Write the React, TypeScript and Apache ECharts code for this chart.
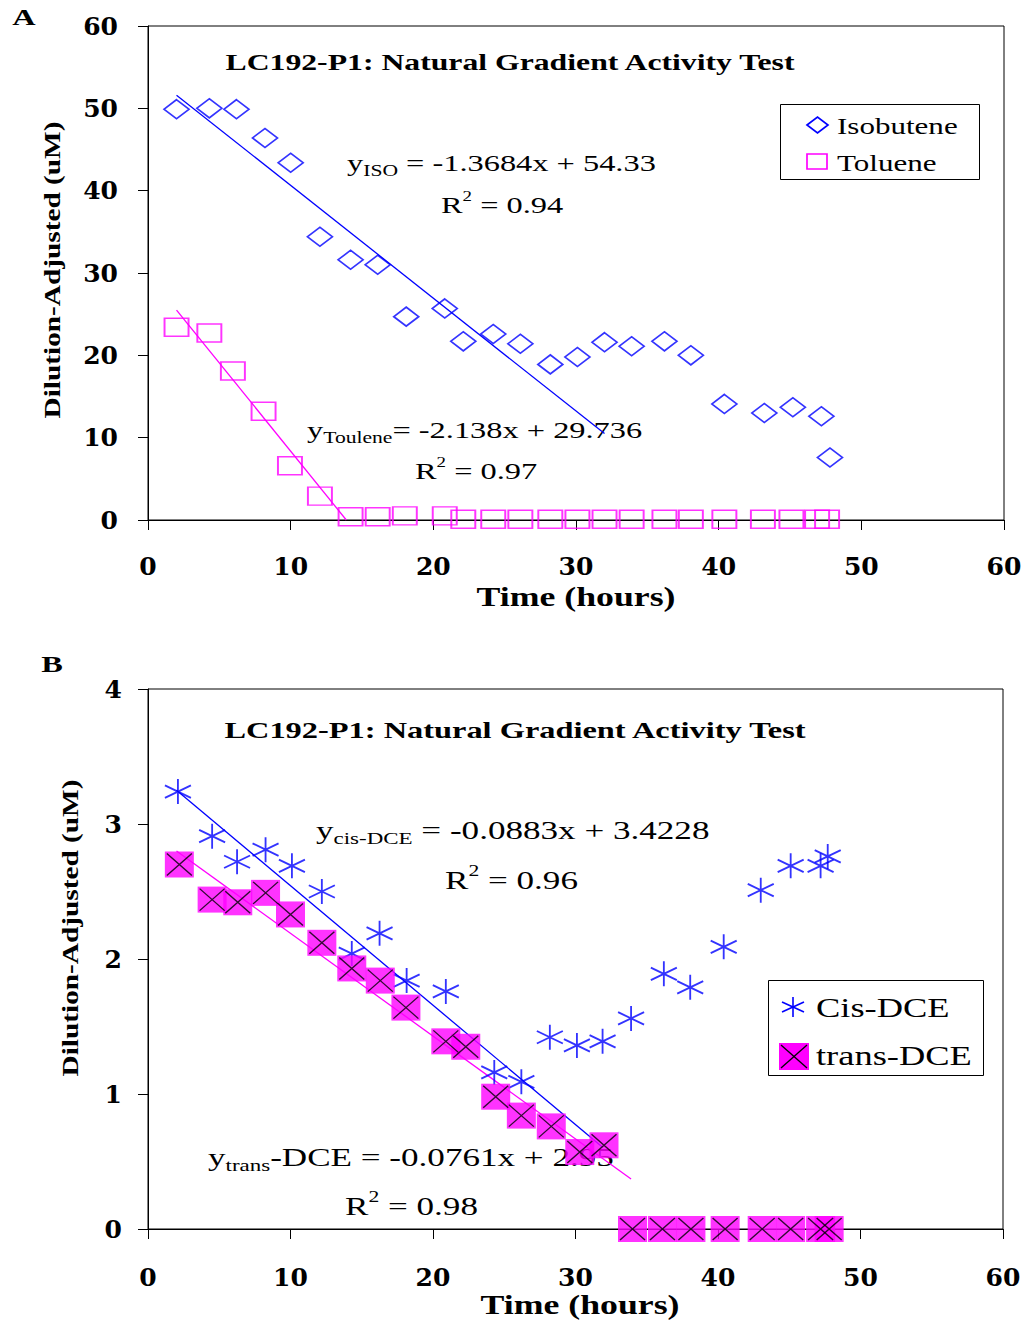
import React, { useEffect, useRef } from "react";
import * as echarts from "echarts";

// ---------- Panel A data ----------
const isoTime = [2.0, 4.3, 6.2, 8.2, 10.0, 12.05, 14.2, 16.1, 18.1, 20.8, 22.1, 24.2, 26.1, 28.2, 30.1, 32.0, 33.9, 36.2, 38.05, 40.4, 43.2, 45.2, 47.2, 47.8];
const isobutene = [49.9, 50.0, 49.9, 46.4, 43.4, 34.4, 31.6, 31.0, 24.7, 25.7, 21.7, 22.6, 21.4, 18.9, 19.8, 21.6, 21.1, 21.7, 20.0, 14.1, 13.0, 13.7, 12.6, 7.6];
const tolTime = [2.0, 4.3, 5.95, 8.1, 9.95, 12.05, 14.2, 16.1, 18.0, 20.8, 22.1, 24.2, 26.1, 28.2, 30.1, 32.0, 33.9, 36.2, 38.05, 40.4, 43.1, 45.1, 46.9, 47.6];
const toluene = [23.4, 22.7, 18.1, 13.2, 6.6, 2.9, 0.4, 0.4, 0.5, 0.5, 0.1, 0.1, 0.1, 0.1, 0.1, 0.1, 0.1, 0.1, 0.1, 0.1, 0.1, 0.1, 0.1, 0.1];
const isoTrend = [[2, 51.6], [32, 10.5]];
const tolTrend = [[2, 25.5], [13.9, 0]];

// ---------- Panel B data ----------
const cisTime = [2.1, 4.5, 6.25, 8.25, 10.1, 12.2, 14.3, 16.25, 18.15, 20.9, 24.3, 26.2, 28.2, 30.1, 31.9, 33.9, 36.2, 38.05, 40.4, 43.0, 45.1, 47.2, 47.7];
const cisDCE = [3.24, 2.91, 2.72, 2.81, 2.69, 2.5, 2.04, 2.19, 1.84, 1.76, 1.16, 1.09, 1.42, 1.36, 1.39, 1.56, 1.89, 1.79, 2.09, 2.51, 2.69, 2.69, 2.76];
const transTime = [2.2, 4.5, 6.3, 8.25, 10.0, 12.2, 14.3, 16.3, 18.1, 20.9, 22.3, 24.4, 26.2, 28.3, 30.3, 32.0, 34.0, 36.1, 38.1, 40.5, 43.1, 45.1, 47.2, 47.8];
const transDCE = [2.7, 2.44, 2.42, 2.49, 2.33, 2.12, 1.93, 1.84, 1.64, 1.39, 1.35, 0.98, 0.84, 0.76, 0.57, 0.62, 0, 0, 0, 0, 0, 0, 0, 0];
const cisTrend = [[2, 3.25], [31.9, 0.605]];
const transTrend = [[2, 2.8], [33.9, 0.37]];

// ---------- Axes ----------
const xTicksMax = 60;
const yMaxA = 60;
const yMaxB = 4;

const TITLE = "LC192-P1: Natural Gradient Activity Test";
const SERIF = "'Liberation Serif', 'Times New Roman', serif";
const TICKFONT = "'DejaVu Serif', serif";
const S = 1.35;
const BLUE = "#0000ff";
const MAGENTA = "#ff00ff";

const zip = (xs: number[], ys: number[]) => xs.map((x, i) => [x, ys[i]]);

function richText(x: number, y: number, F: number, text: string, extra: any = {}) {
  return {
    type: "text",
    x,
    y,
    scaleX: S,
    style: {
      text,
      align: "left",
      verticalAlign: "middle",
      fill: "#000",
      fontFamily: SERIF,
      fontSize: F,
      rich: {
        m: { fontSize: F, fontFamily: SERIF, lineHeight: Math.round(F * 1.3), verticalAlign: "middle", fill: "#000" },
        s: { fontSize: Math.round(F * 0.65), fontFamily: SERIF, lineHeight: Math.round(F * 0.65) + 4, verticalAlign: "bottom", fill: "#000" },
        p: { fontSize: Math.round(F * 0.6), fontFamily: SERIF, lineHeight: Math.round(F * 0.6), verticalAlign: "top", fill: "#000" },
      },
      ...extra,
    },
  };
}

function plainText(x: number, y: number, F: number, text: string, bold: boolean, align = "center", sx = S) {
  return {
    type: "text",
    x,
    y,
    scaleX: sx,
    style: {
      text,
      align,
      verticalAlign: "middle",
      fill: "#000",
      fontFamily: SERIF,
      fontSize: F,
      fontWeight: bold ? "bold" : "normal",
    },
  };
}

const axisCommon = (max: number, interval: number, gridIndex: number, margin: number) => ({
  gridIndex,
  type: "value",
  min: 0,
  max,
  interval,
  axisLine: { show: true, onZero: false, lineStyle: { color: "#000", width: 1 } },
  axisTick: { show: true, inside: false, length: 10, lineStyle: { color: "#000", width: 1 } },
  axisLabel: { margin, color: "#000", fontFamily: TICKFONT, fontWeight: "bold", fontSize: 25 },
  splitLine: { show: false },
});

const asteriskPath = "path://M12,0L12,24M0,6L24,18M0,18L24,6";
const crossPath = "path://M0,0L24,24M0,24L24,0";

export default function App() {
  const ref = useRef<HTMLDivElement>(null);
  useEffect(() => {
    if (!ref.current) return;
    const chart = echarts.init(ref.current, null, { renderer: "svg" });
    const option: any = {
      animation: false,
      backgroundColor: "#fff",
      grid: [
        { left: 148, top: 26, width: 856, height: 494, show: true, borderColor: "#000", borderWidth: 1, backgroundColor: "transparent" },
        { left: 148, top: 689, width: 855, height: 540, show: true, borderColor: "#000", borderWidth: 1, backgroundColor: "transparent" },
      ],
      xAxis: [axisCommon(xTicksMax, 10, 0, 34), axisCommon(xTicksMax, 10, 1, 36)],
      yAxis: [axisCommon(yMaxA, 10, 0, 30), axisCommon(yMaxB, 1, 1, 26)],
      series: [
        { type: "line", xAxisIndex: 0, yAxisIndex: 0, data: isoTrend, symbol: "none", silent: true, lineStyle: { color: BLUE, width: 1.3 }, z: 1 },
        { type: "line", xAxisIndex: 0, yAxisIndex: 0, data: tolTrend, symbol: "none", silent: true, lineStyle: { color: MAGENTA, width: 1.3 }, z: 1 },
        {
          name: "Isobutene", type: "scatter", xAxisIndex: 0, yAxisIndex: 0, clip: false,
          data: zip(isoTime, isobutene), symbol: "diamond", symbolSize: [25, 19],
          itemStyle: { color: "rgba(0,0,0,0)", borderColor: BLUE, borderWidth: 1.7 },
        },
        {
          name: "Toluene", type: "scatter", xAxisIndex: 0, yAxisIndex: 0, clip: false,
          data: zip(tolTime, toluene), symbol: "rect", symbolSize: [24, 18],
          itemStyle: { color: "rgba(0,0,0,0)", borderColor: MAGENTA, borderWidth: 1.7 },
        },
        { type: "line", xAxisIndex: 1, yAxisIndex: 1, data: cisTrend, symbol: "none", silent: true, lineStyle: { color: BLUE, width: 1.3 }, z: 1 },
        { type: "line", xAxisIndex: 1, yAxisIndex: 1, data: transTrend, symbol: "none", silent: true, lineStyle: { color: MAGENTA, width: 1.3 }, z: 1 },
        {
          name: "Cis-DCE", type: "scatter", xAxisIndex: 1, yAxisIndex: 1, clip: false,
          data: zip(cisTime, cisDCE), symbol: asteriskPath, symbolSize: [26, 25],
          itemStyle: { color: "none", borderColor: BLUE, borderWidth: 1.8 },
        },
        {
          name: "trans-DCE", type: "scatter", xAxisIndex: 1, yAxisIndex: 1, clip: false,
          data: zip(transTime, transDCE), symbol: "rect", symbolSize: [29, 26],
          itemStyle: { color: MAGENTA, borderWidth: 0 },
        },
        {
          name: "trans-DCE-x", type: "scatter", xAxisIndex: 1, yAxisIndex: 1, clip: false,
          data: zip(transTime, transDCE), symbol: crossPath, symbolSize: [25, 22],
          itemStyle: { color: "none", borderColor: "#000", borderWidth: 1.3 },
        },
      ],
      graphic: [
        // panel letters
        plainText(24, 17, 24, "A", true),
        plainText(52, 664, 24, "B", true),
        // titles
        plainText(510, 62, 23.5, TITLE, true),
        plainText(515, 730, 24, TITLE, true),
        // axis names
        plainText(576, 597, 26.5, "Time (hours)", true),
        plainText(580, 1305, 26.5, "Time (hours)", true),
        { type: "text", x: 52, y: 270, rotation: Math.PI / 2, scaleX: 1.22, style: { text: "Dilution-Adjusted (uM)", align: "center", verticalAlign: "middle", fill: "#000", fontFamily: SERIF, fontSize: 24, fontWeight: "bold" } },
        { type: "text", x: 70, y: 928, rotation: Math.PI / 2, scaleX: 1.22, style: { text: "Dilution-Adjusted (uM)", align: "center", verticalAlign: "middle", fill: "#000", fontFamily: SERIF, fontSize: 24, fontWeight: "bold" } },
        // equations panel A
        richText(347, 163, 24, "{m|y}{s|ISO}{m| = -1.3684x + 54.33}"),
        richText(441, 205, 24, "{m|R}{p|2}{m| = 0.94}"),
        richText(307, 430, 24, "{m|y}{s|Toulene}{m|= -2.138x + 29.736}"),
        richText(415, 471, 24, "{m|R}{p|2}{m| = 0.97}"),
        // equations panel B
        richText(316, 830, 26, "{m|y}{s|cis-DCE}{m| = -0.0883x + 3.4228}"),
        richText(445, 880, 26, "{m|R}{p|2}{m| = 0.96}"),
        richText(208, 1157, 26, "{m|y}{s|trans}{m|-DCE = -0.0761x + 2.95}"),
        richText(345, 1206, 26, "{m|R}{p|2}{m| = 0.98}"),
        // legend A
        { type: "rect", shape: { x: 780.5, y: 104.5, width: 199, height: 75 }, style: { fill: "#fff", stroke: "#000", lineWidth: 1 }, z: 5 },
        { type: "polygon", shape: { points: [[807, 125], [817.5, 117], [828, 125], [817.5, 133]] }, style: { fill: "none", stroke: BLUE, lineWidth: 1.7 }, z: 6 },
        { type: "rect", shape: { x: 807, y: 154, width: 20, height: 15 }, style: { fill: "none", stroke: MAGENTA, lineWidth: 1.7 }, z: 6 },
        { ...plainText(837, 126, 23, "Isobutene", false, "left"), z: 6 },
        { ...plainText(837, 163, 23, "Toluene", false, "left"), z: 6 },
        // legend B
        { type: "rect", shape: { x: 768.5, y: 980.5, width: 215, height: 95 }, style: { fill: "#fff", stroke: "#000", lineWidth: 1 }, z: 5 },
        { type: "line", shape: { x1: 793, y1: 997, x2: 793, y2: 1017 }, style: { stroke: BLUE, lineWidth: 1.6 }, z: 6 },
        { type: "line", shape: { x1: 782, y1: 1002, x2: 804, y2: 1012 }, style: { stroke: BLUE, lineWidth: 1.6 }, z: 6 },
        { type: "line", shape: { x1: 782, y1: 1012, x2: 804, y2: 1002 }, style: { stroke: BLUE, lineWidth: 1.6 }, z: 6 },
        { type: "rect", shape: { x: 779, y: 1043, width: 30, height: 27 }, style: { fill: MAGENTA }, z: 6 },
        { type: "line", shape: { x1: 781, y1: 1045, x2: 807, y2: 1068 }, style: { stroke: "#000", lineWidth: 1.3 }, z: 7 },
        { type: "line", shape: { x1: 781, y1: 1068, x2: 807, y2: 1045 }, style: { stroke: "#000", lineWidth: 1.3 }, z: 7 },
        { ...plainText(816, 1008, 27, "Cis-DCE", false, "left"), z: 6 },
        { ...plainText(816, 1056, 27, "trans-DCE", false, "left"), z: 6 },
      ],
    };
    chart.setOption(option);
    return () => chart.dispose();
  }, []);
  return (
    <div
      ref={ref}
      style={{ position: "absolute", left: 0, top: 0, width: 1028, height: 1321, background: "#fff" }}
    />
  );
}
